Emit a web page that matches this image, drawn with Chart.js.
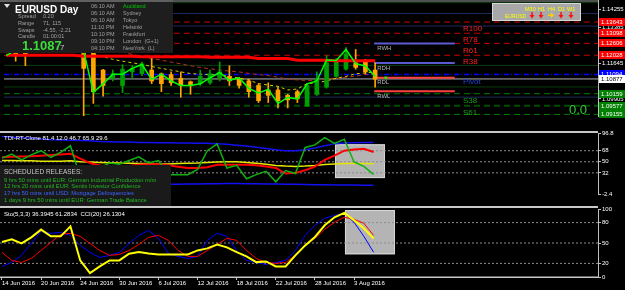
<!DOCTYPE html>
<html>
<head>
<meta charset="utf-8">
<title>EURUSD Day</title>
<script src="https://cdn.jsdelivr.net/npm/chart.js@4.4.1/dist/chart.umd.min.js"></script>
<style>
  html, body { margin: 0; padding: 0; background: #000; overflow: hidden; }
  #wrap { position: relative; width: 625px; height: 290px; background: #000; overflow: hidden; }
  #wrap canvas { position: absolute; left: 0; }
</style>
</head>
<body>
<div id="wrap">
  <canvas id="mainChart" width="625" height="141" style="top:-6px"></canvas>
  <canvas id="tdiChart" width="625" height="86" style="top:127px"></canvas>
  <canvas id="stoChart" width="625" height="87" style="top:203px"></canvas>
</div>
<script>
const FONT = '"Liberation Sans", Arial, sans-serif';
const X_MIN = -0.2, X_MAX = 60.94;
const MAIN_TOP = -6, TDI_TOP = 127, STO_TOP = 203;

// x axis: one bar per trading day, 14 Jun 2016 .. 5 Aug 2016
const tickBars = [0, 4, 8, 12, 16, 20, 24, 28, 32, 36];
const tickDates = ['14 Jun 2016', '20 Jun 2016', '24 Jun 2016', '30 Jun 2016', '6 Jul 2016',
  '12 Jul 2016', '18 Jul 2016', '22 Jul 2016', '28 Jul 2016', '3 Aug 2016'];

// price panel
const openP  = [1.1222,1.1275,1.1253,1.1222,1.1231,1.1279,1.1244,1.1275,1.1384,1.1231,1.1131,1.1091,1.1056,1.1122,1.1113,1.1131,1.1113,1.1109,1.1091,1.1074,1.1065,1.1069,1.1091,1.1100,1.1091,1.1078,1.1056,1.1034,1.1034,1.1008,1.1026,1.0956,1.1013,1.1048,1.1100,1.1135,1.1166,1.1174,1.1131];
const highP  = [1.1279,1.1297,1.1288,1.1275,1.1297,1.1305,1.1318,1.1406,1.1436,1.1240,1.1135,1.1131,1.1157,1.1152,1.1170,1.1187,1.1117,1.1122,1.1122,1.1078,1.1131,1.1131,1.1170,1.1152,1.1096,1.1087,1.1065,1.1069,1.1048,1.1013,1.1034,1.1065,1.1122,1.1201,1.1187,1.1240,1.1231,1.1183,1.1166];
const lowP   = [1.1218,1.1174,1.1152,1.1218,1.1222,1.1231,1.1235,1.1266,1.0908,1.0969,1.1004,1.1078,1.1021,1.1091,1.1104,1.1065,1.1026,1.1056,1.0999,1.1013,1.1056,1.1061,1.1078,1.1056,1.1043,1.0999,1.0973,1.0973,1.0947,1.0947,1.0973,1.0956,1.1008,1.1043,1.1096,1.1131,1.1135,1.1113,1.1048];
const closeP = [1.1262,1.1209,1.1205,1.1253,1.1275,1.1244,1.1288,1.1384,1.1139,1.1026,1.1056,1.1113,1.1135,1.1139,1.1161,1.1078,1.1065,1.1069,1.1056,1.1056,1.1100,1.1113,1.1122,1.1078,1.1056,1.1026,1.0982,1.1008,1.0982,1.0986,1.0991,1.1056,1.1087,1.1166,1.1174,1.1209,1.1144,1.1122,1.1087];
const fastLine = [1.1201,1.1227,1.1253,1.1262,1.1275,1.1275,1.1288,1.1340,1.1224,1.1023,1.1064,1.1111,1.1111,1.1139,1.1158,1.1086,1.1111,1.1078,1.1056,1.1056,1.1064,1.1093,1.1119,1.1081,1.1093,1.1042,1.1020,1.1037,1.0969,1.0998,1.0991,1.1064,1.1078,1.1180,1.1177,1.1231,1.1162,1.1151,1.1100];
const slowMa = [1.1203,1.1203,1.1203,1.1203,1.1203,1.1203,1.1203,1.1203,1.1198,1.1198,1.1198,1.1198,1.1198,1.1198,1.1196,1.1196,1.1196,1.1196,1.1196,1.1196,1.1196,1.1193,1.1193,1.1193,1.1193,1.1193,1.1187,1.1187,1.1187,1.1187,1.1179,1.1179,1.1179,1.1179,1.1176,1.1176,1.1176,1.1176,1.1176];
const maBrown = [1.1340,1.1332,1.1323,1.1314,1.1305,1.1297,1.1292,1.1288,1.1279,1.1253,1.1240,1.1227,1.1218,1.1207,1.1196,1.1187,1.1179,1.1170,1.1161,1.1152,1.1144,1.1137,1.1131,1.1126,1.1122,1.1115,1.1109,1.1104,1.1096,1.1087,1.1083,1.1080,1.1083,1.1087,1.1091,1.1096,1.1102,1.1109,1.1113];
const maYellow = [1.1318,1.1314,1.1310,1.1305,1.1301,1.1297,1.1297,1.1305,1.1253,1.1209,1.1196,1.1183,1.1174,1.1166,1.1159,1.1148,1.1139,1.1131,1.1122,1.1114,1.1111,1.1109,1.1107,1.1100,1.1092,1.1082,1.1065,1.1058,1.1052,1.1034,1.1039,1.1065,1.1069,1.1078,1.1091,1.1100,1.1113,1.1117,1.1122];
const priceTicks = [1.14255, 1.13385, 1.12515, 1.11645, 1.10775, 1.09905];
const levelNames  = ['grid1', 'navy1', 'R100', 'navy2', 'R78', 'R61', 'R38', 'grid2', 'Pivot', 'Bid', 'grid3', 'S38', 'navy3', 'S61', 'S78'];
const levelValues = [1.14583, 1.14059, 1.13643, 1.13447, 1.13098, 1.12606, 1.12028, 1.11537, 1.11094, 1.10877, 1.10488, 1.10159, 1.09994, 1.09577, 1.09155];
const rangeNames  = ['RWH', 'RDH', 'RDL', 'RWL'];
const rangeValues = [1.12595, 1.11655, 1.10934, 1.10278];

// TDI panel
const tdiRsi    = [55.9,62.6,53.2,61.3,68.0,57.3,65.3,76.0,25,20,40,48,46,52,58,48,52,29.1,29.1,29.1,37.6,68.0,79.1,39.8,44.3,22.4,29.1,34.5,17.4,35.8,30.8,73.3,77.4,89.4,80.0,86.7,49.6,42.5,29.6];
const tdiSignal = [57.3,58,58.5,59,60,61,62,63,55,48,44,42,42,43,45,46,46,44.3,42,40,39.8,41,45.2,45,45,45.2,44.5,42.5,40,30.8,32,36.2,42,53.2,60,68,70,71.1,65.9];
const tdiMid    = [52,52,51.5,51.5,51,51,51,51.5,50,49.5,49,48.5,48,47.5,47,46.8,46.5,46.4,47,47.5,48,49,49.5,50,50.1,49,47.5,46,44,43,42.5,43,44,45.5,46.5,47,47.2,47,46.7];
const tdiUpper  = [91.2,90,89,88.5,87,86,85.5,85,84.5,84,83,82.5,82,82,81.5,81.5,81,81,80.5,80.5,80,80,79.5,78.5,77,75.5,73.5,71.5,69.5,68,68,69.5,72.5,76,79.5,80.5,81,81.2,81.4];
const tdiLower  = [22,21,20,19,18,18,17,17,14,12,11,11,11.5,12,12.5,13,13,13.4,13.6,13.8,14,14.2,14.4,14.5,14.5,14.4,14.2,14,13.8,13.5,13.3,13,12.8,12.6,12.4,12.2,12.1,12,12];
const tdiTicks  = [96.8, 68, 50, 32, -2.4];
const tdiLevels = [68, 50, 32];

// Stochastic / CCI panel
const stoMain   = [15.5,21.4,31.8,49.5,67.2,64.2,65.7,61.3,46.5,36.2,28.8,31.8,36.2,49.5,61.3,68.6,56.8,34.7,30.3,27.3,30.3,53.9,64.2,59.8,39.1,24.4,21.4,18.5,21.4,24.4,39.1,61.3,76.0,86.3,90.7,93.7,80.4,59.8,36.4];
const stoSignal = [36.2,24.4,21.4,27.3,39.1,50.9,62.7,64.2,59.8,49.5,39.1,31.8,33.2,39.1,48.0,58.3,61.3,53.9,39.1,30.3,30.3,39.1,48.0,56.8,53.9,39.1,27.3,21.4,20.0,21.4,31.8,46.5,56.8,70.1,80.4,87.8,84.9,79.0,61.3];
const cciLine   = [51.4,55.4,49.5,58.3,69.7,59.8,59.8,74.5,24.4,5.7,15.5,24.4,24.4,34.3,36.6,34.7,33.2,33.2,33.2,33.2,39.1,42.1,47.6,43.6,36.6,30.3,21.9,22.9,15.5,15.5,31.8,46.5,58.8,76.0,87.8,94.2,83.4,71.6,56.4];
const stoTicks  = [100, 80, 50, 20, 0];
const stoLevels = [80, 50, 20];

// ---------- styles ----------
const BULL = '#00a000', BEAR = '#ffa500';
const levelStyle = {
  grid1: { c: '#0b3f0b', w: 1 }, grid2: { c: '#0b3f0b', w: 1 }, grid3: { c: '#0b3f0b', w: 1 },
  navy1: { c: '#1c2a5c', w: 1 }, navy2: { c: '#1c2a5c', w: 1 }, navy3: { c: '#1c2a5c', w: 1 },
  R100: { c: '#c00000', w: 1, d: [6, 4] }, R78: { c: '#c00000', w: 1, d: [6, 4] },
  R61:  { c: '#c00000', w: 1, d: [6, 4] }, R38: { c: '#c00000', w: 1, d: [6, 4] },
  Pivot: { c: '#0000ff', w: 1.5, d: [5, 2, 1, 2] },
  Bid: { c: '#b4b4b4', w: 1 },
  S38: { c: '#008000', w: 1, d: [6, 4] }, S61: { c: '#005000', w: 2, d: [6, 4] }, S78: { c: '#008000', w: 1, d: [6, 4] }
};
const levelText = { R100: '#ff2020', R78: '#ff2020', R61: '#ff2020', R38: '#ff2020', Pivot: '#2040d0', S38: '#1aa01a', S61: '#1aa01a' };
const tagColor = {
  R100: ['#ff0000', '#ffffff'], R78: ['#ff0000', '#ffffff'], R61: ['#ff0000', '#ffffff'], R38: ['#ff0000', '#ffffff'],
  Pivot: ['#0000ff', '#ffffff'], Bid: ['#ffffff', '#000000'],
  S38: ['#008000', '#ffffff'], S61: ['#008000', '#ffffff'], S78: ['#008000', '#ffffff']
};
const rangeColor = { RWH: '#5a5ad2', RDH: '#5a5ad2', RDL: '#ff4040', RWL: '#ff4040' };
const RANGE_FROM = 37.9, RANGE_TO = 46.2;

const pts = arr => arr.map((v, i) => ({ x: i, y: v }));
const flat = (v, a, b) => [{ x: a, y: v }, { x: b, y: v }];

function line(data, color, width, extra) {
  return Object.assign({ type: 'line', data, borderColor: color, borderWidth: width,
    pointRadius: 0, tension: 0, fill: false }, extra || {});
}

function xAxis(show) {
  return {
    type: 'linear', min: X_MIN, max: X_MAX, display: show, offset: false,
    afterBuildTicks: s => { s.ticks = tickBars.map(v => ({ value: v })); },
    afterFit: s => { s.height = 13; },
    ticks: { autoSkip: false, maxRotation: 0, align: 'start', padding: 0, color: '#ffffff',
      font: { family: FONT, size: 6 }, callback: (v, i) => tickDates[i] },
    grid: { drawOnChartArea: false, drawTicks: true, tickLength: 3, color: '#c0c0c0' },
    border: { display: false }
  };
}

function yAxis(min, max, ticks, fmt) {
  return {
    position: 'right', min, max,
    afterBuildTicks: s => { s.ticks = ticks.map(v => ({ value: v })); },
    afterFit: s => { s.width = 27; },
    ticks: { autoSkip: false, padding: 1, color: '#ffffff', font: { family: FONT, size: 6 }, callback: fmt },
    grid: { drawOnChartArea: false, drawTicks: true, tickLength: 3, color: '#c0c0c0' },
    border: { display: true, color: '#c0c0c0', width: 1 }
  };
}

function options(scales, padding, plugin) {
  return {
    responsive: false, animation: false, events: [],
    layout: { padding },
    plugins: { legend: { display: false }, tooltip: { enabled: false } },
    scales
  };
}

function txt(ctx, s, x, y, color, size, weight) {
  ctx.font = (weight ? weight + ' ' : '') + size + 'px ' + FONT;
  ctx.fillStyle = color;
  ctx.fillText(s, x, y);
}

// ---------- price panel ----------
const candleColors = closeP.map((c, i) => c >= openP[i] ? BULL : BEAR);

const mainOverlay = {
  id: 'mainOverlay',
  afterDraw(chart) {
    const { ctx, scales: { x, y } } = chart;
    ctx.save();
    ctx.textBaseline = 'top';
    rangeNames.forEach((n, k) => txt(ctx, n, x.getPixelForValue(RANGE_FROM) + 3, y.getPixelForValue(rangeValues[k]) + 2, '#b4b4b4', 6));
    levelNames.forEach((n, k) => {
      if (levelText[n]) txt(ctx, n, 463, y.getPixelForValue(levelValues[k]) + 3, levelText[n], 8);
    });
    ctx.textBaseline = 'middle';
    levelNames.forEach((n, k) => {
      const t = tagColor[n];
      if (!t) return;
      const py = Math.round(y.getPixelForValue(levelValues[k]));
      ctx.fillStyle = t[0];
      ctx.fillRect(599, py - 4, 26, 8);
      txt(ctx, levelValues[k].toFixed(5), 601, py + 0.5, t[1], 6);
    });

    // fixed overlays, page coordinates
    ctx.translate(0, -MAIN_TOP);
    ctx.textBaseline = 'alphabetic';
    txt(ctx, '0.0', 569, 114, '#32cd32', 13);

    // symbol info panel
    ctx.fillStyle = '#1e1e1e';
    ctx.fillRect(0, 0, 173, 53);
    ctx.fillStyle = '#e0e0e0';
    ctx.beginPath(); ctx.moveTo(4, 4); ctx.lineTo(10, 4); ctx.lineTo(7, 8); ctx.closePath(); ctx.fill();
    txt(ctx, 'EURUSD', 15, 12.5, '#ffffff', 10, 'bold');
    txt(ctx, 'Day', 60, 12.5, '#ffffff', 10, 'bold');
    const rows = [['Spread', '0.20'], ['Range', '71, 115'], ['Swaps', '-4.55, -2.21'], ['Candle', '01:00:01']];
    rows.forEach((r, k) => {
      txt(ctx, r[0], 18, 18 + k * 6.8, '#a0a0a0', 5.5);
      txt(ctx, r[1], 43, 18 + k * 6.8, '#a0a0a0', 5.5);
    });
    txt(ctx, '1.1087', 22, 50, '#3cdc3c', 13, 'bold');
    txt(ctx, '7', 60, 50, '#c0c0c0', 8);
    const clocks = [['06:10 AM', 'Auckland'], ['06:10 AM', 'Sydney'], ['06:10 AM', 'Tokyo'], ['11:10 PM', 'Helsinki'],
      ['10:10 PM', 'Frankfurt'], ['09:10 PM', 'London  (G+1)'], ['04:10 PM', 'NewYork  (L)']];
    clocks.forEach((r, k) => {
      txt(ctx, r[0], 91, 8 + k * 6.95, '#a0a0a0', 5.5);
      txt(ctx, r[1], 123, 8 + k * 6.95, k === 0 ? '#00c800' : '#a0a0a0', 5.5);
    });

    // trend box
    ctx.fillStyle = '#a8a8a8';
    ctx.fillRect(492, 3, 89, 18);
    ctx.strokeStyle = '#d8d8d8';
    ctx.lineWidth = 1;
    ctx.strokeRect(492.5, 3.5, 88, 17);
    [['M30', 525], ['H1', 538], ['H4', 548], ['D1', 558], ['W1', 567]].forEach(t => txt(ctx, t[0], t[1], 10.5, '#ffff00', 5.5));
    txt(ctx, 'EURUSD', 505, 17.5, '#ffff00', 5);
    [532, 541, 551, 561, 571].forEach((ax, k) => {
      if (k === 2) {
        ctx.fillStyle = '#ffd000';
        ctx.fillRect(ax - 3, 14.5, 4, 1.5);
        ctx.beginPath(); ctx.moveTo(ax, 12.5); ctx.lineTo(ax + 3, 15.25); ctx.lineTo(ax, 18); ctx.closePath(); ctx.fill();
      } else {
        ctx.fillStyle = '#ff1010';
        ctx.fillRect(ax - 0.75, 12, 1.5, 4);
        ctx.beginPath(); ctx.moveTo(ax - 2.5, 15); ctx.lineTo(ax + 2.5, 15); ctx.lineTo(ax, 18.5); ctx.closePath(); ctx.fill();
      }
    });
    ctx.fillStyle = '#a0a0a0';
    ctx.fillRect(0, 0.5, 598, 1);
    ctx.restore();
  }
};

const levelSets = levelNames.map((n, k) => {
  const s = levelStyle[n];
  return line(flat(levelValues[k], X_MIN, X_MAX), s.c, s.w, { borderDash: s.d || [], order: 20 + k });
});
const rangeSets = rangeNames.map((n, k) => line(flat(rangeValues[k], RANGE_FROM, RANGE_TO), rangeColor[n], 2, { order: 10 + k }));

new Chart(document.getElementById('mainChart'), {
  type: 'bar',
  data: {
    datasets: [
      line(pts(fastLine), '#00ff00', 1.5, { order: 0 }),
      line(pts(slowMa), '#ff0000', 3, { order: 1 }),
      { type: 'bar', data: openP.map((o, i) => ({ x: i, y: [o, closeP[i]] })), backgroundColor: candleColors,
        barThickness: 4, minBarLength: 1, grouped: false, order: 2 },
      { type: 'bar', data: lowP.map((l, i) => ({ x: i, y: [l, highP[i]] })), backgroundColor: candleColors,
        barThickness: 1, grouped: false, order: 3 },
      line(pts(maYellow), '#d2d200', 1, { borderDash: [3, 3], order: 4 }),
      line(pts(maBrown), '#b4321e', 1, { borderDash: [4, 3], order: 5 }),
      line([{ x: 39.1, y: rangeValues[2] }], '#00ff00', 0, { showLine: false, pointRadius: 1.8, pointStyle: 'rect',
        pointBackgroundColor: '#00ff00', pointBorderWidth: 0, order: 6 }),
      ...rangeSets,
      ...levelSets
    ]
  },
  options: options({ x: xAxis(false), y: yAxis(1.09077, 1.14714, priceTicks, v => v.toFixed(5)) },
    { top: 6, bottom: 6, left: 0, right: 0 }),
  plugins: [mainOverlay]
});

// ---------- TDI panel ----------
const tdiOverlay = {
  id: 'tdiOverlay',
  beforeDatasetsDraw(chart) {
    const { ctx, scales: { x, y } } = chart;
    const x0 = x.getPixelForValue(34.05), x1 = x.getPixelForValue(39.16);
    const y0 = y.getPixelForValue(78.4), y1 = y.getPixelForValue(23.5);
    ctx.save();
    ctx.fillStyle = '#b4b4b4';
    ctx.fillRect(x0, y0, x1 - x0, y1 - y0);
    ctx.strokeStyle = '#d8d8d8';
    ctx.strokeRect(x0 + 0.5, y0 + 0.5, x1 - x0 - 1, y1 - y0 - 1);
    ctx.restore();
  },
  afterDraw(chart) {
    const ctx = chart.ctx;
    ctx.save();
    ctx.translate(0, -TDI_TOP);
    ctx.fillStyle = '#c8c8c8';
    ctx.fillRect(0, 131, 598, 2);
    ctx.textBaseline = 'alphabetic';
    txt(ctx, 'TDI-RT-Clone 81.4 12.0 46.7 65.9 29.6', 4, 139.5, '#ffffff', 6);
    ctx.fillStyle = '#1a1a1a';
    ctx.fillRect(0, 165, 171, 41);
    txt(ctx, 'SCHEDULED RELEASES:', 4, 174, '#c8c8c8', 6.5);
    const news = [['9 hrs 50 mins until EUR: German Industrial Production m/m', '#22b822'],
      ['12 hrs 20 mins until EUR: Sentix Investor Confidence', '#22b822'],
      ['17 hrs 50 mins until USD: Mortgage Delinquencies', '#3c64ff'],
      ['1 days 9 hrs 50 mins until EUR: German Trade Balance', '#22b822']];
    news.forEach((n, k) => txt(ctx, n[0], 4, 181.5 + k * 6.9, n[1], 5.8));
    ctx.restore();
  }
};

new Chart(document.getElementById('tdiChart'), {
  type: 'line',
  data: {
    datasets: [
      line(pts(tdiRsi), '#10b010', 1.5, { order: 0 }),
      line(pts(tdiSignal), '#ff0000', 2, { order: 1 }),
      line(pts(tdiMid), '#e6e600', 1.5, { order: 2 }),
      line(pts(tdiUpper), '#1010f0', 1.5, { order: 3 }),
      line(pts(tdiLower), '#1010f0', 1.5, { order: 4 }),
      ...tdiLevels.map((v, k) => line(flat(v, X_MIN, X_MAX), '#8c8c8c', 1, { borderDash: [2, 2], order: 10 + k }))
    ]
  },
  options: options({ x: xAxis(false), y: yAxis(-2.4, 96.8, tdiTicks, v => String(v)) },
    { top: 6, bottom: 6, left: 0, right: 0 }),
  plugins: [tdiOverlay]
});

// ---------- Stochastic / CCI panel ----------
const stoOverlay = {
  id: 'stoOverlay',
  beforeDatasetsDraw(chart) {
    const { ctx, scales: { x, y } } = chart;
    const x0 = x.getPixelForValue(35.07), x1 = x.getPixelForValue(40.18);
    const y0 = y.getPixelForValue(98.5), y1 = y.getPixelForValue(33.4);
    ctx.save();
    ctx.fillStyle = '#b4b4b4';
    ctx.fillRect(x0, y0, x1 - x0, y1 - y0);
    ctx.strokeStyle = '#d8d8d8';
    ctx.strokeRect(x0 + 0.5, y0 + 0.5, x1 - x0 - 1, y1 - y0 - 1);
    ctx.restore();
  },
  afterDraw(chart) {
    const ctx = chart.ctx;
    ctx.save();
    ctx.translate(0, -STO_TOP);
    ctx.fillStyle = '#c8c8c8';
    ctx.fillRect(0, 206, 598, 2);
    ctx.fillRect(0, 276.5, 598, 1.5);
    ctx.textBaseline = 'alphabetic';
    txt(ctx, 'Sto(5,3,3) 36.3945 61.2834  CCI(20) 26.1304', 4, 215.5, '#ffffff', 6);
    ctx.restore();
  }
};

new Chart(document.getElementById('stoChart'), {
  type: 'line',
  data: {
    datasets: [
      line(pts(cciLine), '#ffff00', 2, { order: 0 }),
      line(pts(stoSignal), '#ff0000', 1, { order: 1 }),
      line(pts(stoMain), '#0000ff', 1, { order: 2 }),
      ...stoLevels.map((v, k) => line(flat(v, X_MIN, X_MAX), '#8c8c8c', 1, { borderDash: [2, 2], order: 10 + k }))
    ]
  },
  options: options({ x: xAxis(true), y: yAxis(0, 100, stoTicks, v => String(v)) },
    { top: 6, bottom: 0, left: 0, right: 0 }),
  plugins: [stoOverlay]
});
</script>
</body>
</html>
